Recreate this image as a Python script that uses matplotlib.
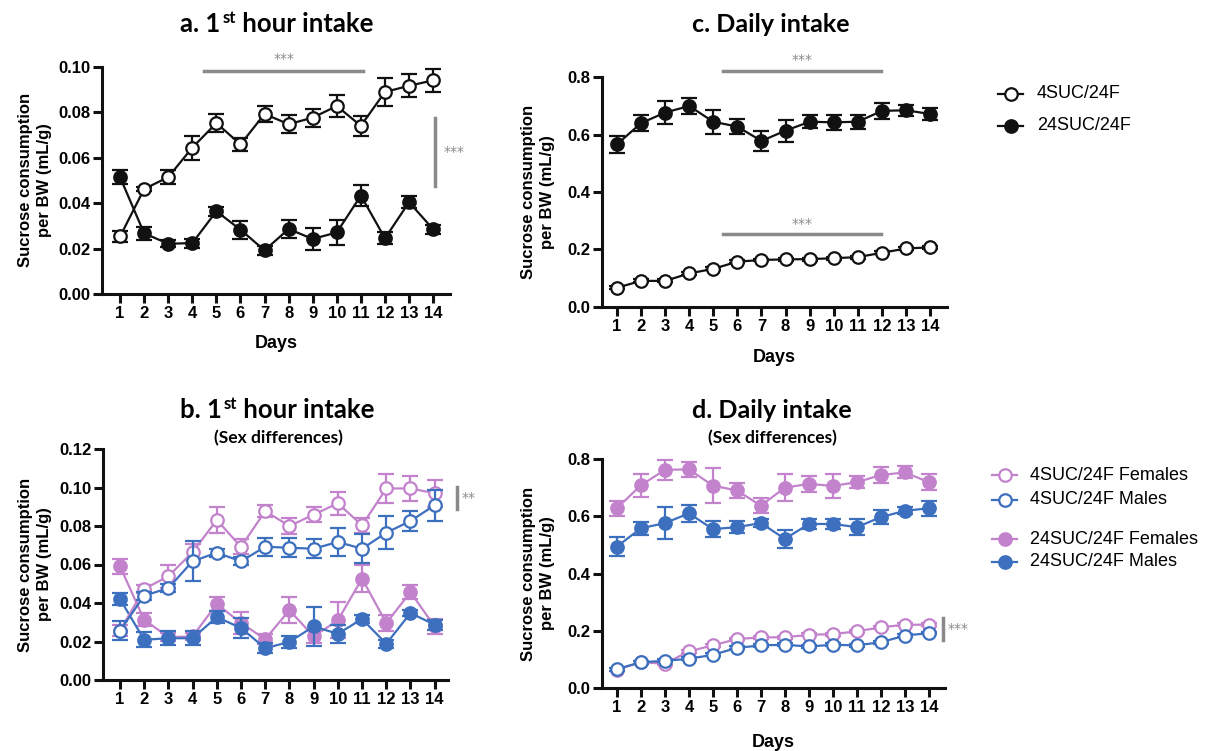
import matplotlib
matplotlib.use("Agg")
import matplotlib.pyplot as plt
from matplotlib.lines import Line2D

W, H = 1215, 751

days = list(range(1, 15))

# a. 1st hour intake
a_4suc = [0.0253, 0.0462, 0.0514, 0.0644, 0.0752, 0.0658, 0.0792, 0.0747, 0.0776, 0.0827, 0.0740, 0.0889, 0.0916, 0.0940]
a_4suc_err = [0.0026, 0.0010, 0.0032, 0.0053, 0.0040, 0.0030, 0.0036, 0.0040, 0.0040, 0.0048, 0.0045, 0.0062, 0.0050, 0.0050]
a_24suc = [0.0514, 0.0267, 0.0221, 0.0224, 0.0364, 0.0283, 0.0192, 0.0286, 0.0242, 0.0271, 0.0433, 0.0245, 0.0404, 0.0285]
a_24suc_err = [0.0032, 0.0029, 0.0016, 0.0020, 0.0020, 0.0040, 0.0020, 0.0040, 0.0050, 0.0056, 0.0045, 0.0027, 0.0027, 0.0020]

# c. Daily intake
c_4suc = [0.066, 0.090, 0.090, 0.116, 0.132, 0.157, 0.163, 0.165, 0.166, 0.169, 0.173, 0.188, 0.203, 0.207]
c_4suc_err = [0.005] * 14
c_24suc = [0.566, 0.640, 0.677, 0.700, 0.645, 0.628, 0.578, 0.614, 0.645, 0.643, 0.645, 0.683, 0.685, 0.672]
c_24suc_err = [0.029, 0.029, 0.041, 0.027, 0.041, 0.027, 0.034, 0.038, 0.023, 0.026, 0.024, 0.027, 0.020, 0.020]

# b. 1st hour intake by sex
b_4suc_f = [0.0256, 0.0473, 0.0539, 0.0664, 0.0831, 0.0692, 0.0877, 0.0800, 0.0859, 0.0918, 0.0803, 0.0995, 0.0995, 0.0970]
b_4suc_f_err = [0.003, 0.002, 0.006, 0.004, 0.0066, 0.004, 0.003, 0.004, 0.004, 0.006, 0.004, 0.0074, 0.0067, 0.007]
b_4suc_m = [0.0256, 0.0438, 0.0477, 0.0617, 0.0661, 0.0617, 0.0692, 0.0687, 0.0682, 0.0717, 0.0682, 0.0765, 0.0826, 0.0908]
b_4suc_m_err = [0.005, 0.002, 0.002, 0.0105, 0.002, 0.002, 0.0048, 0.005, 0.005, 0.0074, 0.0075, 0.0087, 0.0052, 0.008]
b_24suc_f = [0.0591, 0.0313, 0.0223, 0.0226, 0.0395, 0.0296, 0.0212, 0.0363, 0.0226, 0.0310, 0.0527, 0.0296, 0.0456, 0.0278]
b_24suc_f_err = [0.004, 0.0035, 0.002, 0.002, 0.0036, 0.0058, 0.0025, 0.0066, 0.0035, 0.0094, 0.0072, 0.004, 0.0036, 0.004]
b_24suc_m = [0.0421, 0.0209, 0.0217, 0.0217, 0.0327, 0.0270, 0.0165, 0.0198, 0.0278, 0.0240, 0.0317, 0.0188, 0.0348, 0.0287]
b_24suc_m_err = [0.003, 0.004, 0.0035, 0.0035, 0.003, 0.0052, 0.0025, 0.003, 0.010, 0.0048, 0.002, 0.002, 0.0018, 0.0026]

# d. Daily intake by sex
d_4suc_f = [0.064, 0.090, 0.085, 0.128, 0.149, 0.171, 0.177, 0.177, 0.186, 0.188, 0.198, 0.212, 0.221, 0.221]
d_4suc_f_err = [0.005] * 14
d_4suc_m = [0.066, 0.090, 0.095, 0.102, 0.116, 0.140, 0.149, 0.151, 0.145, 0.151, 0.149, 0.160, 0.183, 0.192]
d_4suc_m_err = [0.005] * 14
d_24suc_f = [0.628, 0.708, 0.762, 0.764, 0.707, 0.690, 0.637, 0.700, 0.713, 0.706, 0.719, 0.744, 0.753, 0.719]
d_24suc_f_err = [0.027, 0.041, 0.035, 0.027, 0.061, 0.026, 0.026, 0.047, 0.029, 0.042, 0.020, 0.027, 0.021, 0.028]
d_24suc_m = [0.494, 0.558, 0.576, 0.610, 0.555, 0.562, 0.576, 0.521, 0.573, 0.573, 0.562, 0.597, 0.619, 0.628]
d_24suc_m_err = [0.034, 0.022, 0.055, 0.031, 0.027, 0.020, 0.014, 0.032, 0.017, 0.019, 0.028, 0.025, 0.012, 0.026]

legend_top = ["4SUC/24F", "24SUC/24F"]
legend_bottom = ["4SUC/24F Females", "4SUC/24F Males", "24SUC/24F Females", "24SUC/24F Males"]

BLACK = "#111111"
PINK = "#C283CC"
BLUE = "#3D6FBF"
GRAY = "#8A8A8A"
TICK_FONT = "Liberation Sans"
TITLE_FONT = "Lato"

fig = plt.figure(figsize=(W / 100, H / 100), dpi=100)


def fx(px):
    return px / W


def fy(py):
    return 1 - py / H


def make_ax(left, right, top, bottom, xlim, ylim, yticks, yfmt):
    ax = fig.add_axes([fx(left), fy(bottom), fx(right) - fx(left), fy(top) - fy(bottom)])
    ax.set_xlim(*xlim)
    ax.set_ylim(*ylim)
    for s in ("top", "right"):
        ax.spines[s].set_visible(False)
    for s in ("left", "bottom"):
        ax.spines[s].set_linewidth(2.2)
        ax.spines[s].set_color(BLACK)
    ax.set_xticks(days)
    ax.set_xticklabels([str(d) for d in days])
    ax.set_yticks(yticks)
    ax.set_yticklabels([yfmt.format(v) for v in yticks])
    ax.tick_params(axis="both", width=2.2, length=6.5, color=BLACK, pad=2,
                   labelsize=12)
    for lab in ax.get_xticklabels() + ax.get_yticklabels():
        lab.set_fontweight("bold")
        lab.set_fontfamily(TICK_FONT)
    ax.patch.set_alpha(0)
    return ax


def series(ax, y, err, color, filled, z):
    ax.errorbar(days, y, yerr=err, color=color, lw=1.6, elinewidth=1.6,
                capsize=5.5, capthick=1.6, marker="o", markersize=9,
                markerfacecolor=color if filled else "white",
                markeredgecolor=color, markeredgewidth=1.6, zorder=z,
                clip_on=False)


def ylabel(xc, ax):
    pos = ax.get_position()
    fig.text(fx(xc), (pos.y0 + pos.y1) / 2, "Sucrose consumption\nper BW (mL/g)",
             rotation=90, ha="center", va="center", fontsize=12,
             fontweight="bold", family=TICK_FONT, linespacing=1.35)


def sup_title(ax, x_left, y_base, head, tail):
    t1 = fig.text(fx(x_left), fy(y_base), head, fontsize=18.5, fontweight="bold",
                  family=TITLE_FONT, ha="left", va="baseline")
    t2 = ax.annotate("st", xy=(1, 0), xycoords=t1, xytext=(1.5, 7),
                     textcoords="offset points", fontsize=12,
                     fontweight="bold", family=TITLE_FONT, ha="left",
                     va="bottom", annotation_clip=False)
    ax.annotate(tail, xy=(1, 0), xycoords=(t2, t1), fontsize=18.5,
                fontweight="bold", family=TITLE_FONT, ha="left", va="bottom",
                annotation_clip=False)


def stars(ax, x, y, s):
    ax.text(x, y, s, color=GRAY, fontsize=10, ha="left", va="center",
            family="DejaVu Sans", clip_on=False)


# ---------- panel a ----------
ax_a = make_ax(102, 450, 66.7, 294, (0.25, 14.7), (0, 0.10),
               [0, 0.02, 0.04, 0.06, 0.08, 0.10], "{:.2f}")
series(ax_a, a_24suc, a_24suc_err, BLACK, True, 3)
series(ax_a, a_4suc, a_4suc_err, BLACK, False, 4)
ax_a.plot([4.5, 11.1], [0.0982, 0.0982], color=GRAY, lw=2.5, clip_on=False)
ax_a.text(7.8, 0.1005, "***", color=GRAY, fontsize=10, ha="center", va="bottom")
ax_a.plot([14.08, 14.08], [0.0475, 0.0774], color=GRAY, lw=2.5, clip_on=False)
stars(ax_a, 14.45, 0.0625, "***")
ax_a.set_xlabel("Days", fontsize=13, fontweight="bold", family=TICK_FONT,
                labelpad=10)
ylabel(35, ax_a)
sup_title(ax_a, 180, 32, "a. 1", " hour intake")

# ---------- panel c ----------
ax_c = make_ax(601.7, 947, 77.3, 306.7, (0.37, 14.7), (0, 0.8),
               [0, 0.2, 0.4, 0.6, 0.8], "{:.1f}")
series(ax_c, c_24suc, c_24suc_err, BLACK, True, 3)
series(ax_c, c_4suc, c_4suc_err, BLACK, False, 4)
for yb in (0.823, 0.252):
    ax_c.plot([5.4, 11.95], [yb, yb], color=GRAY, lw=2.5, clip_on=False)
    ax_c.text(8.7, yb + 0.012, "***", color=GRAY, fontsize=10, ha="center",
              va="bottom")
ax_c.set_xlabel("Days", fontsize=13, fontweight="bold", family=TICK_FONT,
                labelpad=11)
ylabel(538, ax_c)
fig.text(fx(771), fy(32), "c. Daily intake", fontsize=18, fontweight="bold",
         family=TITLE_FONT, ha="center", va="baseline")

# ---------- panel b ----------
ax_b = make_ax(103, 448, 449, 680, (0.3, 14.55), (0, 0.12),
               [0, 0.02, 0.04, 0.06, 0.08, 0.10, 0.12], "{:.2f}")
series(ax_b, b_24suc_f, b_24suc_f_err, PINK, True, 3)
series(ax_b, b_24suc_m, b_24suc_m_err, BLUE, True, 4)
series(ax_b, b_4suc_f, b_4suc_f_err, PINK, False, 5)
series(ax_b, b_4suc_m, b_4suc_m_err, BLUE, False, 6)
ax_b.plot([14.93, 14.93], [0.0887, 0.1005], color=GRAY, lw=2.5, clip_on=False)
stars(ax_b, 15.1, 0.0946, "**")
ylabel(35, ax_b)
sup_title(ax_b, 180, 418, "b. 1", " hour intake")
fig.text(fx(278), fy(438), "(Sex differences)", fontsize=12.5,
         fontweight="bold", family=TITLE_FONT, ha="center", va="center")

# ---------- panel d ----------
ax_d = make_ax(602, 945, 459, 688, (0.38, 14.67), (0, 0.8),
               [0, 0.2, 0.4, 0.6, 0.8], "{:.1f}")
series(ax_d, d_24suc_f, d_24suc_f_err, PINK, True, 3)
series(ax_d, d_24suc_m, d_24suc_m_err, BLUE, True, 4)
series(ax_d, d_4suc_f, d_4suc_f_err, PINK, False, 5)
series(ax_d, d_4suc_m, d_4suc_m_err, BLUE, False, 6)
ax_d.plot([14.58, 14.58], [0.169, 0.244], color=GRAY, lw=2.5, clip_on=False)
stars(ax_d, 14.78, 0.206, "***")
ax_d.set_xlabel("Days", fontsize=13, fontweight="bold", family=TICK_FONT,
                labelpad=14)
ylabel(538, ax_d)
fig.text(fx(772), fy(418), "d. Daily intake", fontsize=18, fontweight="bold",
         family=TITLE_FONT, ha="center", va="baseline")
fig.text(fx(772), fy(438), "(Sex differences)", fontsize=12.5,
         fontweight="bold", family=TITLE_FONT, ha="center", va="center")


# ---------- legends ----------
def legend_entry(x0, x1, y, color, filled, label, tx):
    xm = (x0 + x1) / 2
    fig.add_artist(Line2D([fx(x0), fx(x1)], [fy(y), fy(y)], color=color,
                          lw=1.6, transform=fig.transFigure))
    fig.add_artist(Line2D([fx(xm)], [fy(y)], marker="o", markersize=9,
                          markerfacecolor=color if filled else "white",
                          markeredgecolor=color, markeredgewidth=1.6,
                          transform=fig.transFigure))
    fig.text(fx(tx), fy(y), label, fontsize=13, family=TICK_FONT,
             ha="left", va="center")


legend_entry(998, 1023, 94, BLACK, False, legend_top[0], 1037)
legend_entry(998, 1023, 126, BLACK, True, legend_top[1], 1037)
legend_entry(992, 1017, 475, PINK, False, legend_bottom[0], 1030)
legend_entry(992, 1017, 500, BLUE, False, legend_bottom[1], 1030)
legend_entry(992, 1017, 539, PINK, True, legend_bottom[2], 1030)
legend_entry(992, 1017, 562, BLUE, True, legend_bottom[3], 1030)

fig.savefig("out.png", dpi=100)
